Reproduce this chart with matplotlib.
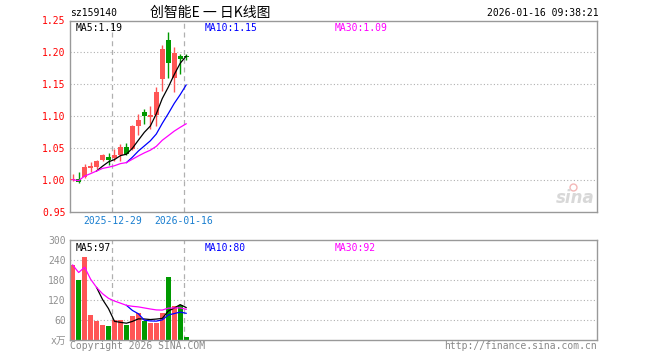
import numpy as np
import pandas as pd
import matplotlib
matplotlib.use('Agg')
import matplotlib.pyplot as plt

# 日K数据 (开, 高, 低, 收) 与成交量(万)
opens = [0.999, 1.001, 1.004, 1.018, 1.020, 1.031, 1.035, 1.034, 1.038, 1.052,
         1.048, 1.085, 1.106, 1.098, 1.102, 1.158, 1.220, 1.159, 1.195, 1.194]
highs = [1.009, 1.012, 1.025, 1.027, 1.031, 1.040, 1.042, 1.048, 1.056, 1.058,
         1.086, 1.103, 1.111, 1.115, 1.145, 1.212, 1.232, 1.208, 1.197, 1.197]
lows = [0.998, 0.994, 1.002, 1.012, 1.017, 1.030, 1.023, 1.030, 1.030, 1.038,
        1.047, 1.070, 1.088, 1.080, 1.085, 1.140, 1.160, 1.137, 1.166, 1.188]
closes = [1.000, 0.997, 1.020, 1.021, 1.030, 1.038, 1.031, 1.038, 1.052, 1.041,
          1.085, 1.094, 1.100, 1.101, 1.137, 1.205, 1.183, 1.199, 1.190, 1.193]
volumes = [225, 180, 250, 75, 58, 45, 42, 60, 60, 45,
           72, 80, 58, 52, 52, 82, 190, 102, 105, 8]
date_ticks = {7: '2025-12-29', 19: '2026-01-16'}

RED = '#ff5555'
GREEN = '#009900'
GRID = '#b0b0b0'
FRAME = '#999999'
MONO = 'DejaVu Sans Mono'

W, H = 660, 360


def px(x, y):
    return x / W, 1 - y / H


def box(l, t, r, b):
    return [l / W, 1 - b / H, (r - l) / W, (b - t) / H]


n = len(closes)
idx = np.arange(n)
o = np.array(opens)
c = np.array(closes)
up = c >= o
colors = [RED if u else GREEN for u in up]

cs = pd.Series(closes)
ma5 = cs.rolling(5).mean()
ma10 = cs.rolling(10).mean()
ma30 = cs.rolling(30, min_periods=1).mean()
vs = pd.Series(volumes, dtype=float)
vma5 = vs.rolling(5).mean()
vma10 = vs.rolling(10).mean()
vma30 = vs.rolling(30, min_periods=1).mean()

fig = plt.figure(figsize=(6.6, 3.6), dpi=100)
fig.patch.set_facecolor('white')

xlim = (-0.45, 87.8)

# 价格图
ax = fig.add_axes(box(70, 20.5, 597, 211.5))
ax.set_xlim(*xlim)
ax.set_ylim(0.95, 1.25)
for lv in [1.00, 1.05, 1.10, 1.15, 1.20]:
    ax.axhline(lv, color=GRID, lw=0.8, ls=(0, (1, 2)), zorder=0)
for i in date_ticks:
    ax.axvline(i - 0.35, color=GRID, lw=0.9, ls=(0, (4, 3)), zorder=0)

ax.vlines(idx, lows, highs, colors=colors, lw=1, zorder=2)
bottoms = np.minimum(o, c)
heights = np.maximum(np.abs(c - o), 0.0015)
ax.bar(idx, heights, bottom=bottoms, width=0.8, color=colors, zorder=3)

ax.plot(idx, ma5, color='black', lw=0.9, zorder=4)
ax.plot(idx, ma10, color='#0000ff', lw=0.9, zorder=4)
ax.plot(idx, ma30, color='#ff00ff', lw=0.9, zorder=4)

yt = [0.95, 1.00, 1.05, 1.10, 1.15, 1.20, 1.25]
ax.set_yticks(yt)
ax.set_yticklabels(['%.2f' % v for v in yt], color='#ff0000', fontsize=7, family=MONO)
ax.tick_params(axis='y', length=0, pad=3)
ax.set_xticks([])
for s in ax.spines.values():
    s.set_color(FRAME)
    s.set_linewidth(1)

ax.text(0.01, 0.985, 'MA5:%.2f' % ma5.iloc[-1], transform=ax.transAxes, fontsize=7,
        family=MONO, color='black', va='top')
ax.text(135 / 527, 0.985, 'MA10:%.2f' % ma10.iloc[-1], transform=ax.transAxes, fontsize=7,
        family=MONO, color='#0000ff', va='top')
ax.text(265 / 527, 0.985, 'MA30:%.2f' % ma30.iloc[-1], transform=ax.transAxes, fontsize=7,
        family=MONO, color='#ff00ff', va='top')

# 日期标签
for i, lab in date_ticks.items():
    xf = (i - 0.35 - xlim[0]) / (xlim[1] - xlim[0])
    fig.text(70 / W + xf * 527 / W, 1 - 221 / H, lab, ha='center', va='center',
             fontsize=7, family=MONO, color='#1a7fd0')

# sina 水印
ax.text(0.995, 0.07, 'sina', transform=ax.transAxes, ha='right', va='center',
        fontsize=12, style='italic', fontweight='bold', color='#d8d8d8')
ax.plot([0.955], [0.13], 'o', transform=ax.transAxes, ms=5, mfc='none',
        mec='#f4b8b8', mew=1)

# 成交量图
axv = fig.add_axes(box(70, 240, 597, 340))
axv.set_xlim(*xlim)
axv.set_ylim(0, 300)
for lv in [60, 120, 180, 240]:
    axv.axhline(lv, color=GRID, lw=0.8, ls=(0, (1, 2)), zorder=0)
for i in date_ticks:
    axv.axvline(i - 0.35, color=GRID, lw=0.9, ls=(0, (4, 3)), zorder=0)
axv.bar(idx, volumes, width=0.8, color=colors, zorder=2)
axv.plot(idx, vma5, color='black', lw=0.9, zorder=3)
axv.plot(idx, vma10, color='#0000ff', lw=0.9, zorder=3)
axv.plot(idx, vma30, color='#ff00ff', lw=0.9, zorder=3)
axv.set_yticks([0, 60, 120, 180, 240, 300])
axv.set_yticklabels(['x万', '60', '120', '180', '240', '300'], color='#909090',
                    fontsize=7, family=[MONO, 'Noto Sans CJK SC'])
axv.tick_params(axis='y', length=0, pad=3)
axv.set_xticks([])
for s in axv.spines.values():
    s.set_color(FRAME)
    s.set_linewidth(1)

axv.text(0.01, 0.97, 'MA5:%d' % round(vma5.iloc[-1]), transform=axv.transAxes,
         fontsize=7, family=MONO, color='black', va='top')
axv.text(135 / 527, 0.97, 'MA10:%d' % round(vma10.iloc[-1]), transform=axv.transAxes,
         fontsize=7, family=MONO, color='#0000ff', va='top')
axv.text(265 / 527, 0.97, 'MA30:%d' % round(vma30.iloc[-1]), transform=axv.transAxes,
         fontsize=7, family=MONO, color='#ff00ff', va='top')

# 顶部文字
fig.text(*px(70, 13), 'sz159140', fontsize=7, family=MONO, va='center', ha='left')
fig.text(*px(150, 13), '创智能E 一 日K线图', fontsize=10,
         family=['Noto Sans CJK SC', 'DejaVu Sans'], va='center', ha='left')
fig.text(*px(599, 13), '2026-01-16 09:38:21', fontsize=7, family=MONO,
         va='center', ha='right')

# 底部文字
fig.text(*px(70, 346), 'Copyright 2026 SINA.COM', fontsize=7, family=MONO,
         va='center', ha='left', color='#888888')
fig.text(*px(597, 346), 'http://finance.sina.com.cn', fontsize=7, family=MONO,
         va='center', ha='right', color='#888888')

fig.savefig('out.png', dpi=100)
